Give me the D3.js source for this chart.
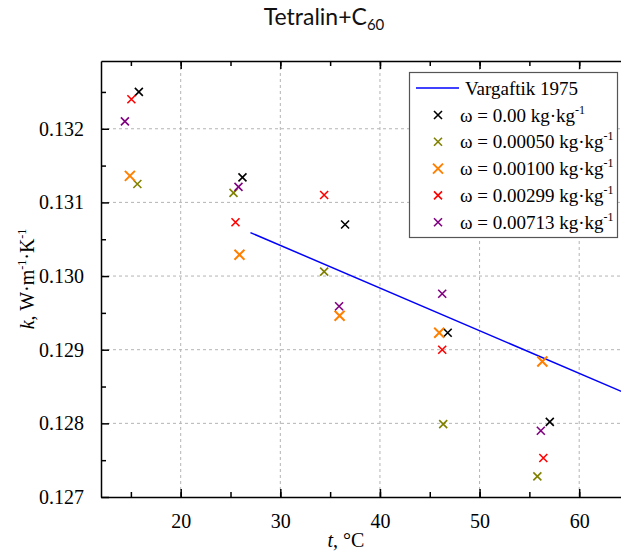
<!DOCTYPE html>
<html>
<head>
<meta charset="utf-8">
<script src="https://cdn.jsdelivr.net/npm/d3@7"></script>
<style>
  body { margin: 0; background: #fff; }
  svg { display: block; }
  .grid line { stroke: #b4b4b4; stroke-dasharray: 3,3; }
</style>
</head>
<body>
<div id="chart"></div>
<script>
// data
var seriesNames = ["0.00", "0.00050", "0.00100", "0.00299", "0.00713"];
var seriesColors = ["#000000", "#808000", "#ff8000", "#ff0000", "#800080"];

var t000 = [15.8, 26.2, 36.5, 46.8, 57.05];
var k000 = [0.13250, 0.13134, 0.13070, 0.12923, 0.12802];

var t050 = [15.65, 25.3, 34.4, 46.35, 55.8];
var k050 = [0.13125, 0.13113, 0.13006, 0.12799, 0.12728];

var t100 = [14.9, 25.9, 35.95, 45.95, 56.3];
var k100 = [0.13136, 0.13029, 0.12946, 0.12923, 0.12884];

var t299 = [15.05, 25.5, 34.4, 46.25, 56.4];
var k299 = [0.13240, 0.13073, 0.13110, 0.12900, 0.12753];

var t713 = [14.4, 25.8, 35.9, 46.25, 56.15];
var k713 = [0.13210, 0.13121, 0.12959, 0.12976, 0.12790];

var vargT = [27.0, 65.0];
var vargK = [0.13059, 0.12839];

var xTicks = [20, 30, 40, 50, 60];
var yTicks = [0.127, 0.128, 0.129, 0.130, 0.131, 0.132];

var series = [
  {t: t000, k: k000}, {t: t050, k: k050}, {t: t100, k: k100},
  {t: t299, k: k299}, {t: t713, k: k713}
];

var SERIF = "Liberation Serif";

var W = 621, H = 554;
var margin = {top: 61, left: 101};
var plotW = 528, plotH = 436;

var svg = d3.select("#chart").append("svg")
    .attr("width", W)
    .attr("height", H);

var xScale = d3.scaleLinear().domain([12, 65]).range([margin.left, margin.left + plotW]);
var yScale = d3.scaleLinear().domain([0.127, 0.13292]).range([margin.top + plotH, margin.top]);

// grid
var grid = svg.append("g").attr("class", "grid");
grid.selectAll(".gx").data(xTicks).enter().append("line")
    .attr("x1", d => xScale(d)).attr("x2", d => xScale(d))
    .attr("y1", margin.top).attr("y2", margin.top + plotH);
grid.selectAll(".gy").data(yTicks.slice(1)).enter().append("line")
    .attr("x1", margin.left).attr("x2", margin.left + plotW)
    .attr("y1", d => yScale(d)).attr("y2", d => yScale(d));

// axes, ticks point inwards
var minorX = d3.range(15, 65, 5);
var minorY = d3.range(0.1275, 0.1329, 0.001);

function styleAxis(g) {
  g.select(".domain").attr("stroke", "#000").attr("stroke-width", 1.5);
  g.selectAll(".tick line").attr("stroke", "#000").attr("stroke-width", 1.5);
  g.selectAll(".tick text")
    .style("font-family", SERIF)
    .style("font-size", "20px")
    .attr("fill", "#000");
}

svg.append("g")
    .attr("transform", "translate(0," + (margin.top + plotH) + ")")
    .call(d3.axisBottom(xScale).tickValues(xTicks).tickSizeInner(-8).tickSizeOuter(0).tickPadding(17))
    .call(styleAxis);
svg.append("g")
    .attr("transform", "translate(0," + (margin.top + plotH) + ")")
    .call(d3.axisBottom(xScale).tickValues(minorX).tickSizeInner(-5).tickSizeOuter(0).tickFormat(""))
    .call(styleAxis).select(".domain").remove();

svg.append("g")
    .attr("transform", "translate(0," + margin.top + ")")
    .call(d3.axisTop(xScale).tickValues(xTicks).tickSizeInner(-8).tickSizeOuter(0).tickFormat(""))
    .call(styleAxis);
svg.append("g")
    .attr("transform", "translate(0," + margin.top + ")")
    .call(d3.axisTop(xScale).tickValues(minorX).tickSizeInner(-5).tickSizeOuter(0).tickFormat(""))
    .call(styleAxis).select(".domain").remove();

svg.append("g")
    .attr("transform", "translate(" + margin.left + ",0)")
    .call(d3.axisLeft(yScale).tickValues(yTicks).tickSizeInner(-8).tickSizeOuter(0).tickPadding(17).tickFormat(d3.format(".3f")))
    .call(styleAxis);
svg.append("g")
    .attr("transform", "translate(" + margin.left + ",0)")
    .call(d3.axisLeft(yScale).tickValues(minorY).tickSizeInner(-5).tickSizeOuter(0).tickFormat(""))
    .call(styleAxis).select(".domain").remove();

// Vargaftik line
var line = d3.line()
    .x(function(d, i) { return xScale(vargT[i]); })
    .y(function(d) { return yScale(d); });
svg.append("path")
    .datum(vargK)
    .attr("fill", "none")
    .attr("stroke", "#0000ff")
    .attr("stroke-width", 1.5)
    .attr("d", line);

// x markers
function cross(g, x, y, r, color, sw) {
  g.append("path")
    .attr("d", "M" + (x - r) + "," + (y - r) + "L" + (x + r) + "," + (y + r) +
               "M" + (x - r) + "," + (y + r) + "L" + (x + r) + "," + (y - r))
    .attr("stroke", color)
    .attr("stroke-width", sw)
    .attr("fill", "none");
}
var markerR = [4, 4, 5, 4, 4];
var markerW = [1.6, 1.6, 2, 1.6, 1.6];

var pts = svg.append("g");
series.forEach(function(s, si) {
  s.t.forEach(function(t, i) {
    cross(pts, xScale(t), yScale(s.k[i]), markerR[si], seriesColors[si], markerW[si]);
  });
});

// legend
var lg = svg.append("g");
lg.append("rect")
    .attr("x", 409.5).attr("y", 72.5).attr("width", 208).attr("height", 165)
    .attr("fill", "#fff").attr("stroke", "#555").attr("stroke-width", 1.2);
lg.append("line")
    .attr("x1", 416).attr("x2", 459).attr("y1", 88).attr("y2", 88)
    .attr("stroke", "#0000ff").attr("stroke-width", 1.5);
lg.append("text").attr("x", 465).attr("y", 94.5)
    .style("font-family", SERIF).style("font-size", "19px")
    .text("Vargaftik 1975");

seriesNames.forEach(function(name, i) {
  var cy = 115 + i * 26.8;
  cross(lg, 438, cy, markerR[i], seriesColors[i], markerW[i]);
  var tx = lg.append("text").attr("x", 460).attr("y", cy + 6.5)
      .style("font-family", SERIF).style("font-size", "19px");
  tx.append("tspan").text("\u03c9 = " + name + " kg\u00b7kg");
  tx.append("tspan").style("font-size", "12px").attr("dy", -8).text("-1");
});

// title
var title = svg.append("text")
    .attr("x", 324).attr("y", 25)
    .attr("text-anchor", "middle")
    .style("font-family", "Lato")
    .style("font-size", "23px")
    .attr("fill", "#111");
title.append("tspan").text("Tetralin+C");
title.append("tspan").style("font-size", "15px").attr("dy", 5).text("60");

// axis labels
var xl = svg.append("text")
    .attr("x", 346).attr("y", 547)
    .attr("text-anchor", "middle")
    .style("font-family", SERIF).style("font-size", "20px");
xl.append("tspan").style("font-style", "italic").text("t");
xl.append("tspan").text(", \u00b0C");

var yl = svg.append("text")
    .attr("transform", "translate(34,279) rotate(-90)")
    .attr("text-anchor", "middle")
    .style("font-family", SERIF).style("font-size", "20px");
yl.append("tspan").style("font-style", "italic").text("k");
yl.append("tspan").text(", W\u00b7m");
yl.append("tspan").style("font-size", "12px").attr("dy", -8).text("-1");
yl.append("tspan").attr("dy", 8).text("\u00b7K");
yl.append("tspan").style("font-size", "12px").attr("dy", -8).text("-1");
</script>
</body>
</html>
